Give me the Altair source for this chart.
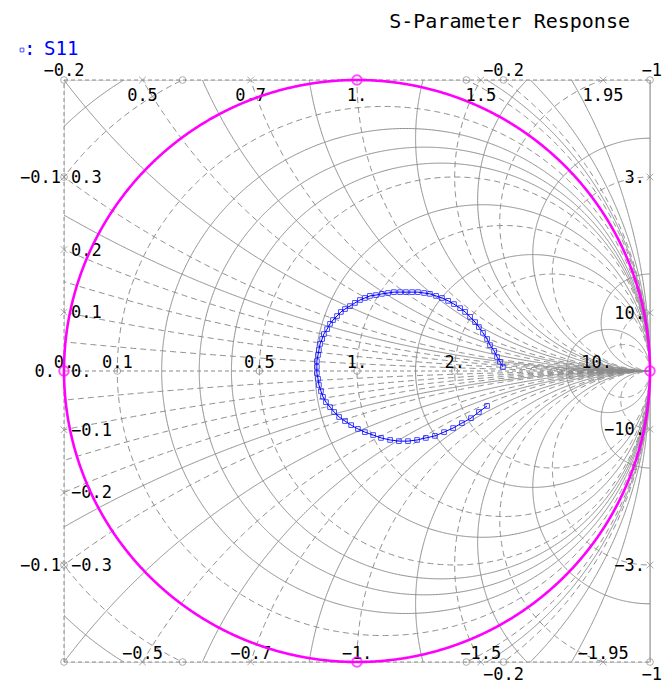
import numpy as np
import pandas as pd
import altair as alt

# ---------------------------------------------------------------
# S11 reflection coefficient (real / imaginary parts), sweep order
# ---------------------------------------------------------------
s11_re = [0.498, 0.488, 0.478, 0.468, 0.454, 0.444, 0.430, 0.416, 0.403, 0.386,
          0.369, 0.352, 0.331, 0.311, 0.290, 0.270, 0.249, 0.229, 0.208, 0.188,
          0.167, 0.147, 0.126, 0.106, 0.085, 0.065, 0.044, 0.027, 0.010, -0.007,
          -0.024, -0.041, -0.055, -0.068, -0.082, -0.092, -0.102, -0.113, -0.119, -0.126,
          -0.130, -0.133, -0.137, -0.137, -0.137, -0.133, -0.130, -0.123, -0.116, -0.106,
          -0.092, -0.078, -0.061, -0.041, -0.020, 0.003, 0.027, 0.055, 0.082, 0.113,
          0.143, 0.174, 0.205, 0.235, 0.266, 0.297, 0.328, 0.358, 0.389, 0.416, 0.444]
s11_im = [0.014, 0.031, 0.048, 0.069, 0.089, 0.110, 0.131, 0.151, 0.168, 0.186,
          0.203, 0.216, 0.230, 0.241, 0.251, 0.258, 0.265, 0.268, 0.271, 0.271,
          0.271, 0.271, 0.271, 0.268, 0.265, 0.261, 0.258, 0.251, 0.244, 0.234,
          0.223, 0.213, 0.203, 0.189, 0.175, 0.162, 0.144, 0.127, 0.110, 0.093,
          0.072, 0.055, 0.034, 0.014, -0.007, -0.027, -0.048, -0.069, -0.089, -0.107,
          -0.124, -0.141, -0.158, -0.172, -0.186, -0.199, -0.210, -0.220, -0.230, -0.237,
          -0.241, -0.241, -0.237, -0.230, -0.223, -0.210, -0.196, -0.179, -0.162, -0.141, -0.120]

# ---------------------------------------------------------------
# Smith grid: normalised resistance / reactance values
# ---------------------------------------------------------------
res_dashed = [0.0, 0.1, 0.5, 1.0, 2.0, 10.0, -0.1, -0.2]
res_solid = [0.2, 0.3, 0.4, 0.75, 1.5, 6.0, -0.15, -0.3, -0.5]
reac_dashed = [0.05, 0.1, 0.15, 0.2, 0.3, 0.5, 0.7, 1.0, 1.5, 1.95, 3.0, 10.0]
reac_solid = [0.25, 0.4, 0.6, 0.85, 1.25, 1.7, 2.5, 6.0]

# grid labels
top_reac_labels = [0.5, 0.7, 1.0, 1.5, 1.95]
left_reac_labels = [0.3, 0.2, 0.1]
right_reac_labels = [3.0, 10.0]
axis_res_labels = [0.0, 0.1, 0.5, 1.0, 2.0, 10.0]
left_negres_labels = [-0.1]
edge_negres_labels = [-0.2]
edge_negres_marks = [-0.1]

TITLE = "S-Parameter Response"
GRID = "#8a8a8a"
FONT = "DejaVu Sans Mono"
W, H = 586, 582

xs = alt.Scale(domain=[-1, 1], nice=False, zero=False)
ys = alt.Scale(domain=[-1, 1], nice=False, zero=False)


def fmt(val):
    s = f"{abs(val):g}"
    if "." not in s:
        s += "."
    return ("\u2212" if val < 0 else "") + s


def arc_runs(cx, cy, rad, lim=1.01, step=0.005):
    """Pieces of a circle lying inside the [-1, 1] box."""
    n = max(720, int(2 * np.pi * rad / step))
    t = np.linspace(0.0, 2 * np.pi, n, endpoint=False)
    u = cx + rad * np.cos(t)
    v = cy + rad * np.sin(t)
    ok = (np.abs(u) <= lim) & (np.abs(v) <= lim)
    if ok.all():
        return [(np.append(u, u[0]), np.append(v, v[0]))]
    k = int(np.argmin(ok))
    u, v, ok = np.roll(u, -k), np.roll(v, -k), np.roll(ok, -k)
    d = np.diff(ok.astype(int))
    starts = list(np.where(d == 1)[0] + 1)
    ends = list(np.where(d == -1)[0] + 1)
    if ok[-1]:
        ends.append(n)
    out = []
    for s, e in zip(starts, ends):
        out.append((u[max(s - 1, 0):min(e + 1, n)], v[max(s - 1, 0):min(e + 1, n)]))
    return out


def res_circle(r):
    return r / (1 + r), 0.0, 1 / abs(1 + r)


def reac_circle(x):
    return 1.0, 1 / x, 1 / abs(x)


def grid_frame(res_vals, reac_vals, tag):
    frames = []
    circles = [res_circle(r) for r in res_vals]
    for x in reac_vals:
        circles.append(reac_circle(x))
        circles.append(reac_circle(-x))
    for ci, (cx, cy, rad) in enumerate(circles):
        for si, (u, v) in enumerate(arc_runs(cx, cy, rad)):
            frames.append(pd.DataFrame({
                "u": np.round(u, 4), "v": np.round(v, 4),
                "i": np.arange(len(u)), "seg": f"{tag}{ci}_{si}"}))
    return pd.concat(frames, ignore_index=True)


dashed_df = grid_frame(res_dashed, reac_dashed, "d")
solid_df = grid_frame(res_solid, reac_solid, "s")


def line_layer(df, dash, width=1.0, color=GRID, clip=True):
    return alt.Chart(df).mark_line(
        color=color, strokeWidth=width, strokeDash=dash, clip=clip,
        strokeCap="butt").encode(
        x=alt.X("u:Q", scale=xs, axis=None),
        y=alt.Y("v:Q", scale=ys, axis=None),
        detail="seg:N", order="i:Q")


# box edges, real axis (x = 0) and the r = -1 line on the right edge
edges_df = pd.DataFrame({
    "u": [-1, 1, -1, 1, -1, -1, -1, 1],
    "v": [1, 1, -1, -1, -1, 1, 0, 0],
    "i": [0, 1, 0, 1, 0, 1, 0, 1],
    "seg": ["top", "top", "bot", "bot", "left", "left", "axis", "axis"]})
right_df = pd.DataFrame({"u": [1, 1], "v": [-1, 1], "i": [0, 1], "seg": ["right", "right"]})

# ---------------------------------------------------------------
# labels and edge markers
# ---------------------------------------------------------------
lab = []   # (u, v, text, slot)
ring = []  # circle markers (resistance)
cross = []  # x markers (reactance)

for x in top_reac_labels:
    u = 1 - np.sqrt(2 / x - 1)
    lab.append((u, 1.0, fmt(x), "top"))
    lab.append((u, -1.0, fmt(-x), "bottom"))
    if abs(u) > 1e-6:
        cross += [(u, 1.0), (u, -1.0)]
for x in left_reac_labels:
    c = 1 / x
    v = c - np.sqrt(c * c - 4)
    lab.append((-1.0, v, fmt(x), "left_in"))
    lab.append((-1.0, -v, fmt(-x), "left_in"))
    cross += [(-1.0, v), (-1.0, -v)]
lab.append((-1.0, 0.0, fmt(0.0), "left_in"))
lab.append((-1.0, 0.0, fmt(0.0), "left_zero"))
for x in right_reac_labels:
    v = 2 / x
    lab.append((1.0, v, fmt(x), "right_in"))
    lab.append((1.0, -v, fmt(-x), "right_in"))
    cross += [(1.0, v), (1.0, -v)]
for r in axis_res_labels:
    u = (r - 1) / (r + 1)
    lab.append((u, 0.0, fmt(r), "axis"))
    if r > 0:
        ring.append((u, 0.0))
for r in left_negres_labels:
    cx, _, R = res_circle(r)
    v = np.sqrt(R * R - (-1 - cx) ** 2)
    lab.append((-1.0, v, fmt(r), "left_out"))
    lab.append((-1.0, -v, fmt(r), "left_out"))
    ring += [(-1.0, v), (-1.0, -v)]
for r in edge_negres_labels:
    cx, _, R = res_circle(r)
    h = np.sqrt(R * R - 1)
    lab.append((cx + h, 1.0, fmt(r), "above"))
    lab.append((cx + h, -1.0, fmt(r), "below"))
    lab.append((cx - h, 1.0, fmt(r), "above"))
    ring += [(cx + h, 1.0), (cx + h, -1.0), (cx - h, 1.0), (cx - h, -1.0)]
for r in edge_negres_marks:
    cx, _, R = res_circle(r)
    h = np.sqrt(R * R - 1)
    ring += [(cx + h, 1.0), (cx + h, -1.0), (cx - h, 1.0), (cx - h, -1.0)]
# r = -1 is the right edge itself
lab.append((1.0, 1.0, "\u22121", "above_r"))
lab.append((1.0, -1.0, "\u22121", "below_r"))
ring += [(1.0, 1.0), (1.0, -1.0)]

lab_df = pd.DataFrame(lab, columns=["u", "v", "text", "slot"])
ring_df = pd.DataFrame(ring, columns=["u", "v"])
cross_df = pd.DataFrame(cross, columns=["u", "v"])

slots = {
    "top": ("center", 0, 21),
    "bottom": ("center", 0, -3),
    "left_in": ("left", 7, 6),
    "left_zero": ("right", -9, 6),
    "left_out": ("right", -3, 6),
    "right_in": ("right", -5, 6),
    "axis": ("center", 0, -3),
    "above": ("center", 0, -4),
    "below": ("center", 0, 18),
    "above_r": ("right", 12, -4),
    "below_r": ("right", 12, 18),
}

text_layers = []
for name, (align, dx, dy) in slots.items():
    sub = lab_df[lab_df.slot == name]
    text_layers.append(alt.Chart(sub).mark_text(
        font=FONT, fontSize=17, color="black", align=align,
        baseline="alphabetic", dx=dx, dy=dy).encode(
        x=alt.X("u:Q", scale=xs, axis=None),
        y=alt.Y("v:Q", scale=ys, axis=None),
        text="text:N"))

ring_layer = alt.Chart(ring_df).mark_point(
    shape="circle", size=45, filled=False, color=GRID, strokeWidth=1).encode(
    x=alt.X("u:Q", scale=xs, axis=None), y=alt.Y("v:Q", scale=ys, axis=None))
cross_layer = alt.Chart(cross_df).mark_point(
    shape="M-1,-1L1,1M-1,1L1,-1", size=45, filled=False, color=GRID,
    strokeWidth=1).encode(
    x=alt.X("u:Q", scale=xs, axis=None), y=alt.Y("v:Q", scale=ys, axis=None))

# unit circle (|Gamma| = 1) with its cardinal markers
th = np.linspace(0, 2 * np.pi, 721)
unit_df = pd.DataFrame({"u": np.cos(th), "v": np.sin(th), "i": np.arange(721), "seg": "unit"})
unit_layer = line_layer(unit_df, [1, 0], width=2.6, color="#ff00ff", clip=False)
card_df = pd.DataFrame({"u": [0.0, 0.0, -1.0, 1.0], "v": [1.0, -1.0, 0.0, 0.0]})
card_layer = alt.Chart(card_df).mark_point(
    shape="circle", size=90, filled=False, color="#ff00ff", strokeWidth=2).encode(
    x=alt.X("u:Q", scale=xs, axis=None), y=alt.Y("v:Q", scale=ys, axis=None))

# S11 trace
s11_df = pd.DataFrame({"u": s11_re, "v": s11_im, "i": np.arange(len(s11_re))})
s11_line = alt.Chart(s11_df).mark_line(color="#0000ff", strokeWidth=1).encode(
    x=alt.X("u:Q", scale=xs, axis=None), y=alt.Y("v:Q", scale=ys, axis=None),
    order="i:Q")
s11_pts = alt.Chart(s11_df).mark_point(
    shape="square", size=22, filled=False, color="#0000ff", strokeWidth=1).encode(
    x=alt.X("u:Q", scale=xs, axis=None), y=alt.Y("v:Q", scale=ys, axis=None))

# legend entry
leg_sym = alt.Chart(pd.DataFrame({"k": [0]})).mark_point(
    shape="square", size=14, filled=False, color="#0000ff", strokeWidth=1).encode(
    x=alt.value(-42), y=alt.value(-30))
leg_colon = alt.Chart(pd.DataFrame({"t": [":"]})).mark_text(
    font=FONT, fontSize=19, color="#0000ff", align="left", baseline="alphabetic").encode(
    x=alt.value(-40), y=alt.value(-25), text="t:N")
leg_text = alt.Chart(pd.DataFrame({"t": ["S11"]})).mark_text(
    font=FONT, fontSize=19, color="#0000ff", align="left", baseline="alphabetic").encode(
    x=alt.value(-20), y=alt.value(-25), text="t:N")

# chart title, right-aligned above the grid
title_layer = alt.Chart(pd.DataFrame({"t": [TITLE]})).mark_text(
    font=FONT, fontSize=20, color="black", align="right", baseline="alphabetic").encode(
    x=alt.value(566), y=alt.value(-52), text="t:N")

chart = alt.layer(
    line_layer(solid_df, [1, 0]),
    line_layer(dashed_df, [6, 4]),
    line_layer(edges_df, [4, 3], clip=False),
    line_layer(right_df, [1, 0], clip=False),
    ring_layer, cross_layer,
    *text_layers,
    unit_layer, card_layer,
    s11_line, s11_pts,
    leg_sym, leg_colon, leg_text, title_layer,
).properties(
    width=W, height=H,
    autosize=alt.AutoSizeParams(type="none"),
    padding={"left": 64, "top": 80, "right": 13, "bottom": 21},
).configure_view(stroke=None).configure(background="white")

chart.save("out.html", embed_options={"renderer": "svg", "actions": False})
